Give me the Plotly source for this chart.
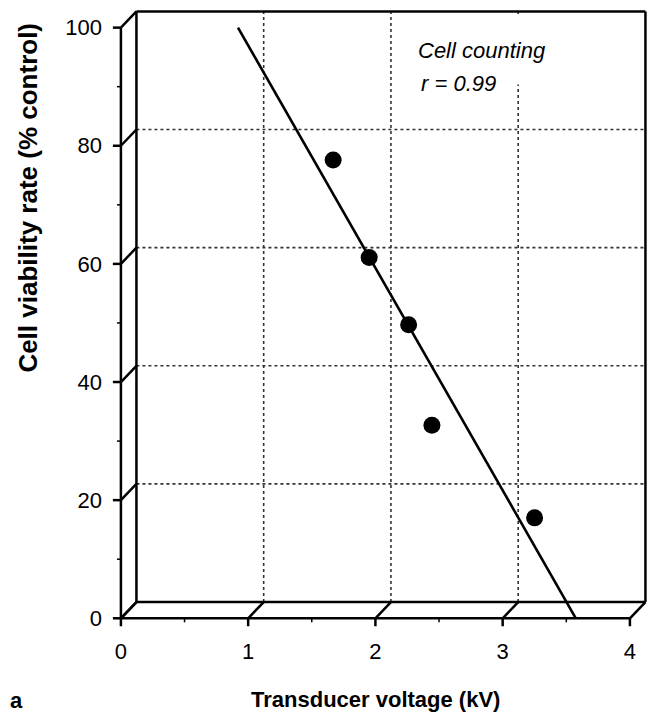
import plotly.graph_objects as go

# --- data -------------------------------------------------------------
voltage_kv = [1.668, 1.951, 2.261, 2.444, 3.251]          # transducer voltage (kV)
viability_pct = [77.6, 61.1, 49.7, 32.7, 17.0]            # cell viability (% control)

fit_x = [0.92, 3.575]                                      # regression line ends
fit_y = [100.0, 0.0]

x_ticks = [0, 1, 2, 3, 4]
x_minor = [0.5, 1.5, 2.5, 3.5]
y_ticks = [0, 20, 40, 60, 80, 100]
y_minor = [10, 30, 50, 70, 90]

# --- pseudo-3D frame settings -----------------------------------------
DX, DY = 0.122, 2.75          # depth offset of the back wall (data units)
X_MAX, Y_MAX = 4, 100
FONT = "Liberation Sans, Arial, Helvetica, sans-serif"

solid = dict(color="black", width=2.5)
grid = dict(color="#333333", width=1.6, dash="dot")

shapes = []

def seg(x0, y0, x1, y1, line, layer="below"):
    shapes.append(dict(type="line", xref="x", yref="y", x0=x0, y0=y0,
                       x1=x1, y1=y1, line=line, layer=layer))

# back-wall grid
for xv in x_ticks[1:-1]:
    seg(xv + DX, DY, xv + DX, Y_MAX + DY, grid)
for yv in y_ticks[1:-1]:
    seg(DX, yv + DY, X_MAX + DX, yv + DY, grid)

# back-wall frame
seg(DX, DY, DX, Y_MAX + DY, solid)
seg(DX, Y_MAX + DY, X_MAX + DX, Y_MAX + DY, solid)
seg(X_MAX + DX, DY, X_MAX + DX, Y_MAX + DY, solid)
seg(DX, DY, X_MAX + DX, DY, solid)

# front axes and depth connectors
seg(0, 0, 0, Y_MAX, solid)
seg(0, 0, X_MAX, 0, solid)
for yv in y_ticks:
    seg(0, yv, DX, yv + DY, solid)
for xv in x_ticks:
    seg(xv, 0, xv + DX, DY, solid)

# tick marks
tick_x_major, tick_x_minor = 0.063, 0.031
tick_y_major, tick_y_minor = 1.35, 0.68
for yv in y_ticks:
    seg(-tick_x_major, yv, 0, yv, solid)
for yv in y_minor:
    seg(-tick_x_minor, yv, 0, yv, dict(color="black", width=1.5))
for xv in x_ticks:
    seg(xv, -tick_y_major, xv, 0, solid)
for xv in x_minor:
    seg(xv, -tick_y_minor, xv, 0, dict(color="black", width=1.5))

fig = go.Figure()

fig.add_trace(go.Scatter(
    x=fit_x, y=fit_y, mode="lines",
    line=dict(color="black", width=2.6), showlegend=False, hoverinfo="skip"))

fig.add_trace(go.Scatter(
    x=voltage_kv, y=viability_pct, mode="markers",
    marker=dict(color="black", size=17, line=dict(width=0)),
    showlegend=False))

annotations = [
    # text box in the upper right of the wall
    dict(x=2.31, y=102.1, xref="x", yref="y", xanchor="left", yanchor="top",
         text="<i>Cell counting</i>", showarrow=False, align="left",
         valign="middle", width=135, height=64, bgcolor="white", borderpad=2,
         font=dict(family=FONT, size=22, color="black")),
    dict(x=2.342, y=90.6, xref="x", yref="y", xanchor="left", yanchor="middle",
         text="<i>r = 0.99</i>", showarrow=False,
         font=dict(family=FONT, size=22, color="black")),
    # axis titles
    dict(x=0.4898, y=-0.0997, xref="paper", yref="paper",
         xanchor="center", yanchor="middle", showarrow=False,
         text="<b>Transducer voltage (kV)</b>",
         font=dict(family=FONT, size=22, color="black")),
    dict(x=-0.156, y=0.694, xref="paper", yref="paper",
         xanchor="center", yanchor="middle", showarrow=False, textangle=-90,
         text="<b>Cell viability rate (% control)</b>",
         font=dict(family=FONT, size=26, color="black")),
    # panel letter
    dict(x=-0.1937, y=-0.102, xref="paper", yref="paper",
         xanchor="left", yanchor="middle", showarrow=False,
         text="<b>a</b>", font=dict(family=FONT, size=22, color="black")),
]

fig.update_layout(
    width=650, height=715,
    margin=dict(l=112, r=1, t=4, b=79),
    paper_bgcolor="white", plot_bgcolor="white",
    shapes=shapes, annotations=annotations,
    font=dict(family=FONT, size=22, color="black"),
    xaxis=dict(range=[-0.07, 4.15], tickmode="array", tickvals=x_ticks,
               ticktext=[str(v) for v in x_ticks], ticks="", showgrid=False,
               zeroline=False, showline=False, fixedrange=True,
               tickfont=dict(family=FONT, size=22, color="black")),
    yaxis=dict(range=[-3, 104], tickmode="array", tickvals=y_ticks,
               ticktext=[str(v) for v in y_ticks], ticks="", showgrid=False,
               zeroline=False, showline=False, fixedrange=True,
               ticklabelstandoff=9,
               tickfont=dict(family=FONT, size=22, color="black")),
)

fig.write_html("out.html")
